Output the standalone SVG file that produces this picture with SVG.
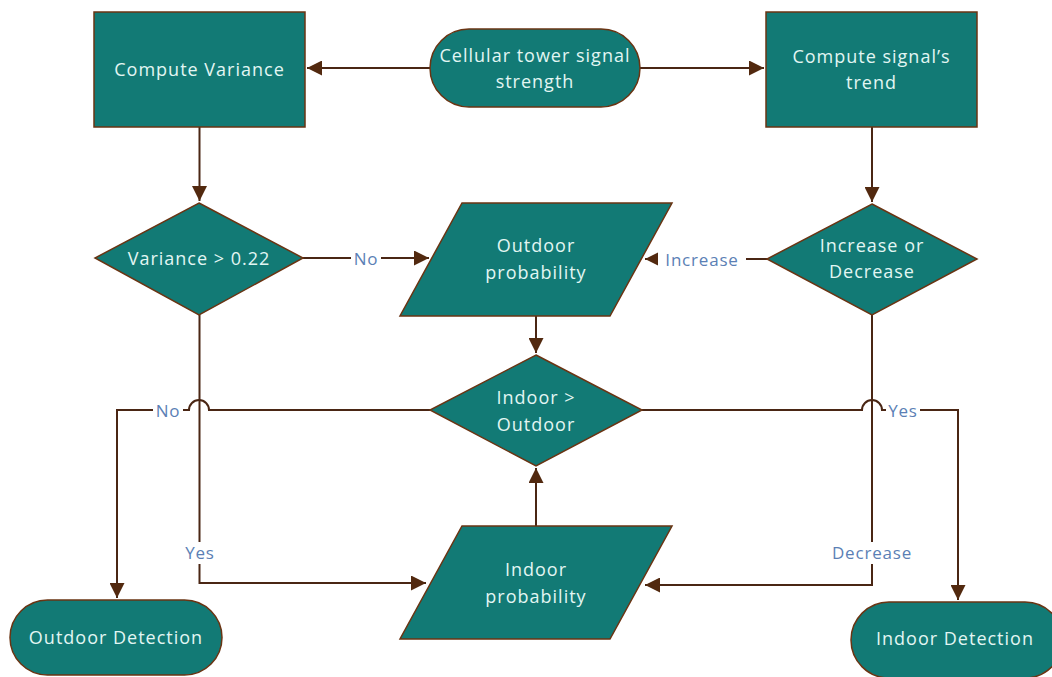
<svg xmlns="http://www.w3.org/2000/svg" width="1052" height="677" viewBox="0 0 1052 677">
<defs>
<marker id="ah" viewBox="0 0 10 10" refX="10" refY="5" markerWidth="7.5" markerHeight="7.5" markerUnits="strokeWidth" orient="auto">
<path d="M0,0 L10,5 L0,10 Z" fill="#52290f"/>
</marker>
<style>
.n{fill:#127a75;stroke:#6a3413;stroke-width:1.5}
.t{font-family:"Open Sans","Noto Sans",sans-serif;font-size:18px;fill:#e2f6f3;text-anchor:middle;dominant-baseline:central;letter-spacing:1px}
.c{fill:none;stroke:#4a2614;stroke-width:2}
.l{font-family:"Open Sans","Noto Sans",sans-serif;font-size:17px;fill:#5b7fb5;text-anchor:middle;dominant-baseline:central;letter-spacing:0.8px}
.bg{fill:#ffffff}
</style>
</defs>
<rect width="1052" height="677" fill="#ffffff"/>
<g id="connectors">
<path class="c" d="M430,68 H307" marker-end="url(#ah)"/>
<path class="c" d="M640,68 H764" marker-end="url(#ah)"/>
<path class="c" d="M199.5,127 V201" marker-end="url(#ah)"/>
<path class="c" d="M872,127 V202" marker-end="url(#ah)"/>
<path class="c" d="M303,258 H429" marker-end="url(#ah)"/>
<path class="c" d="M767,259 H645" marker-end="url(#ah)"/>
<path class="c" d="M536,316 V353" marker-end="url(#ah)"/>
<path class="c" d="M536,526 V468" marker-end="url(#ah)"/>
<path class="c" d="M430,410 H209 A10,10 0 0 0 189,410 H117 V598" marker-end="url(#ah)"/>
<path class="c" d="M642,410 H862 A10,10 0 0 1 882,410 H958 V600" marker-end="url(#ah)"/>
<path class="c" d="M199.5,315 V583 H426" marker-end="url(#ah)"/>
<path class="c" d="M872,315 V585 H645" marker-end="url(#ah)"/>
<rect class="bg" x="351" y="249" width="30" height="20"/>
<text class="l" x="366" y="258">No</text>
<rect class="bg" x="658" y="249" width="88" height="20"/>
<text class="l" x="702" y="259">Increase</text>
<rect class="bg" x="153" y="400" width="30" height="20"/>
<text class="l" x="168" y="410">No</text>
<rect class="bg" x="886" y="400" width="34" height="20"/>
<text class="l" x="903" y="410">Yes</text>
<rect class="bg" x="183" y="542" width="34" height="22"/>
<text class="l" x="200" y="552">Yes</text>
<rect class="bg" x="825" y="542" width="94" height="22"/>
<text class="l" x="872" y="552">Decrease</text>
</g>
<g id="cellular">
<rect class="n" x="430" y="29" width="210" height="78" rx="39"/>
<text class="t" x="535" y="55">Cellular tower signal</text>
<text class="t" x="535" y="81">strength</text>
</g>
<g id="variance">
<rect class="n" x="94" y="12" width="211" height="115"/>
<text class="t" x="199.5" y="69">Compute Variance</text>
</g>
<g id="trend">
<rect class="n" x="766" y="12" width="211" height="115"/>
<text class="t" x="871.5" y="56">Compute signal’s</text>
<text class="t" x="871.5" y="82">trend</text>
</g>
<g id="varcheck">
<polygon class="n" points="199,203 303,258 199,315 95,258"/>
<text class="t" x="199" y="258">Variance &gt; 0.22</text>
</g>
<g id="outprob">
<polygon class="n" points="462,203 672,203 610,316 400,316"/>
<text class="t" x="536" y="245">Outdoor</text>
<text class="t" x="536" y="272">probability</text>
</g>
<g id="incdec">
<polygon class="n" points="872,204 977,259 872,315 767,259"/>
<text class="t" x="872" y="245">Increase or</text>
<text class="t" x="872" y="271">Decrease</text>
</g>
<g id="compare">
<polygon class="n" points="536,355 642,410 536,466 430,410"/>
<text class="t" x="536" y="397">Indoor &gt;</text>
<text class="t" x="536" y="424">Outdoor</text>
</g>
<g id="inprob">
<polygon class="n" points="462,526 672,526 610,639 400,639"/>
<text class="t" x="536" y="569">Indoor</text>
<text class="t" x="536" y="596">probability</text>
</g>
<g id="outdet">
<rect class="n" x="10" y="600" width="212" height="75" rx="37.5"/>
<text class="t" x="116" y="637">Outdoor Detection</text>
</g>
<g id="indet">
<rect class="n" x="851" y="602" width="212" height="76" rx="38"/>
<text class="t" x="955" y="638">Indoor Detection</text>
</g>
</svg>
